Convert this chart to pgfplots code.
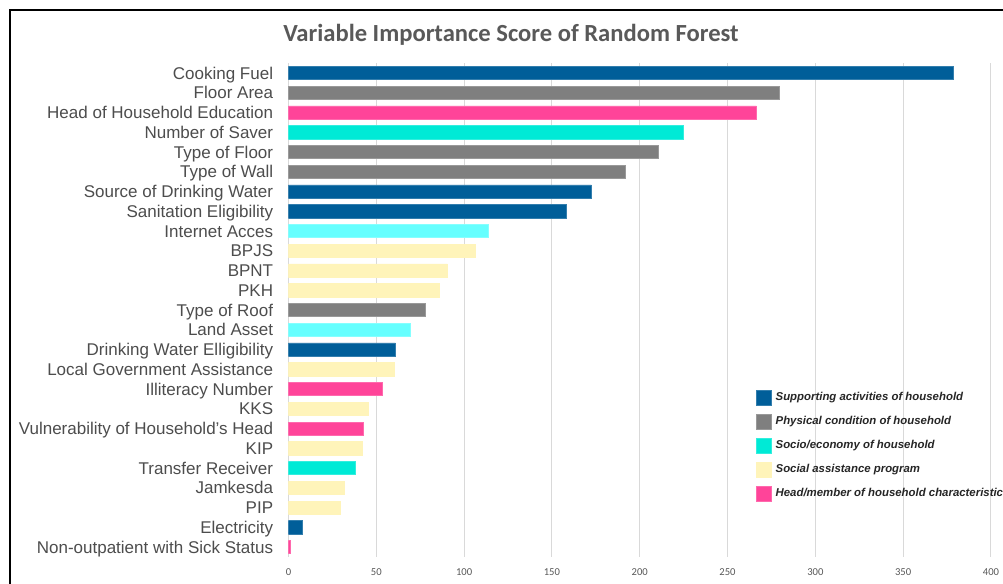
\documentclass[border=0pt]{standalone}
\usepackage{pgfplots}
\pgfplotsset{compat=1.18}
\usepackage{fontspec}
\setmainfont{Liberation Sans}
\newfontfamily\carlito{Carlito}
\definecolor{cblue}{HTML}{005E99}
\definecolor{cgray}{HTML}{7F7F7F}
\definecolor{cpink}{HTML}{FF4499}
\definecolor{cteal}{HTML}{00EAD6}
\definecolor{ccyan}{HTML}{66FFFF}
\definecolor{cyell}{HTML}{FFF4BA}
\definecolor{labgray}{HTML}{4D4D4D}
\definecolor{tickgray}{HTML}{595959}
\definecolor{gridgray}{HTML}{D9D9D9}
\begin{document}
\begin{tikzpicture}
\useasboundingbox (0,0) rectangle (501.5pt,292pt);
\clip (0,0) rectangle (501.5pt,292pt);
\fill[white] (0,0) rectangle (501.5pt,292pt);
\draw[black, line width=1.2pt] (4.85pt,-5pt) -- (4.85pt,287pt) -- (520pt,287pt);
\node[font=\carlito\bfseries\fontsize{12.3}{14}\selectfont, text=tickgray] at (255.5pt,274.5pt) {Variable Importance Score of Random Forest};
\begin{axis}[
  at={(144.25pt,13.5pt)}, anchor=south west,
  scale only axis, width=351.25pt, height=246.9pt,
  xbar, bar shift=0pt, bar width=0.67,
  xmin=0, xmax=400, ymin=-0.5, ymax=24.5, y dir=reverse,
  xtick={0,50,...,400},
  ytick={0,...,24},
  yticklabels={Cooking Fuel, Floor Area, Head of Household Education, Number of Saver, Type of Floor, Type of Wall, Source of Drinking Water, Sanitation Eligibility, Internet Acces, BPJS, BPNT, PKH, Type of Roof, Land Asset, Drinking Water Elligibility, Local Government Assistance, Illiteracy Number, KKS, Vulnerability of Household's Head, KIP, Transfer Receiver, Jamkesda, PIP, Electricity, Non-outpatient with Sick Status},
  axis line style={draw=none},
  major tick length=0pt,
  xmajorgrids, grid style={gridgray, line width=0.5pt},
  /pgf/number format/assume math mode=true,
  xticklabel style={font=\carlito\fontsize{5.3}{6}\selectfont, text=tickgray, inner sep=0pt, anchor=north, yshift=-5.5pt},
  yticklabel style={font=\fontsize{8.5}{9.5}\selectfont, text=labgray, inner sep=0pt, anchor=base east, xshift=-7.5pt, yshift=-3pt},
  legend image code/.code={\fill[#1] (0pt,-3.75pt) rectangle (7.5pt,3.75pt);},
  legend style={draw=none, fill=none, at={(0.665,0.343)}, anchor=north west,
    inner xsep=0pt, inner ysep=0pt, row sep=2.4pt,
    font=\itshape\bfseries\fontsize{5.7}{6.5}\selectfont, text=black!85,
    cells={anchor=west}},
  legend cell align=left,
]
\addplot[fill=cblue, draw=cblue!80!white, line width=0.3pt] coordinates {(378.6,0) (172.4,6) (158.4,7) (60.8,14) (7.6,23)};
\addlegendentry{Supporting activities of household}
\addplot[fill=cgray, draw=cgray!80!white, line width=0.3pt] coordinates {(279.3,1) (210.4,4) (191.6,5) (77.9,12)};
\addlegendentry{Physical condition of household}
\addplot[fill=cteal, draw=cteal!80!white, line width=0.3pt] coordinates {(224.8,3) (37.8,20)};
\addlegendentry{Socio/economy of household}
\addplot[fill=cyell, draw=cyell, line width=0.3pt] coordinates {(106.5,9) (90.4,10) (86,11) (60.2,15) (45.6,17) (42.2,19) (31.8,21) (29.7,22)};
\addlegendentry{Social assistance program}
\addplot[fill=cpink, draw=cpink!80!white, line width=0.3pt] coordinates {(266.4,2) (53.6,16) (42.6,18) (0.8,24)};
\addlegendentry{Head/member of household characteristic}
\addplot[fill=ccyan, draw=ccyan!80!white, line width=0.3pt, forget plot] coordinates {(113.8,8) (69.5,13)};
\end{axis}
\end{tikzpicture}
\end{document}
